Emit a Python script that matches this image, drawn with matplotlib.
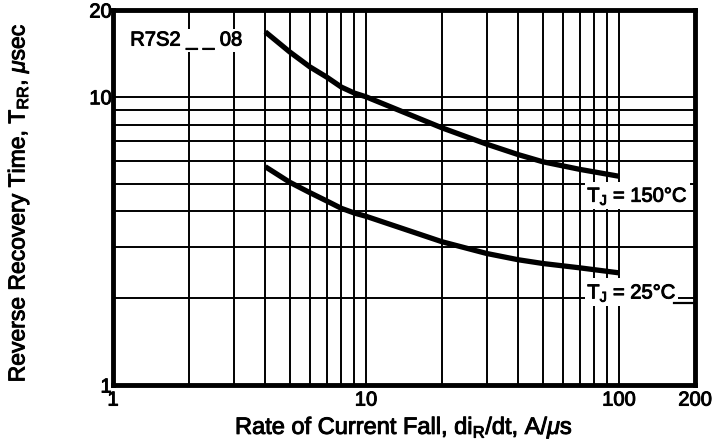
import matplotlib
matplotlib.use("Agg")
import matplotlib.pyplot as plt
import matplotlib.patheffects as pe
from matplotlib.ticker import LogLocator, NullFormatter, FixedLocator, FixedFormatter

FONT = 'Liberation Sans'
plt.rcParams['font.family'] = [FONT, 'DejaVu Sans']
plt.rcParams['mathtext.fontset'] = 'custom'
plt.rcParams['mathtext.rm'] = FONT
plt.rcParams['mathtext.it'] = FONT + ':italic'

# data
x_150 = [4, 5, 6, 7, 8, 9, 10, 20, 30, 40, 50, 70, 100]
y_150 = [16.8, 14.3, 12.7, 11.7, 10.8, 10.3, 10.0, 7.8, 6.85, 6.3, 5.95, 5.6, 5.3]
x_25 = [4, 5, 6, 7, 8, 9, 10, 20, 30, 40, 50, 70, 100]
y_25 = [5.72, 5.05, 4.65, 4.35, 4.1, 3.95, 3.85, 3.14, 2.86, 2.72, 2.64, 2.55, 2.45]
x_ticks = [1, 10, 100, 200]
x_ticklabels = ['1', '10', '100', '200']
y_ticks = [1, 10, 20]
y_ticklabels = ['1', '10', '20']

heavy = [pe.withStroke(linewidth=0.7, foreground='black')]

fig = plt.figure(figsize=(7.27, 4.41), dpi=100)
ax = fig.add_axes([113/727, (441-385)/441, (695-113)/727, (385-10)/441])
ax.set_xscale('log')
ax.set_yscale('log')
ax.set_xlim(1, 200)
ax.set_ylim(1, 20)

ax.xaxis.set_major_locator(FixedLocator(x_ticks))
ax.xaxis.set_major_formatter(FixedFormatter(x_ticklabels))
ax.yaxis.set_major_locator(FixedLocator(y_ticks))
ax.yaxis.set_major_formatter(FixedFormatter(y_ticklabels))
ax.xaxis.set_minor_locator(LogLocator(base=10, subs=range(2, 10)))
ax.yaxis.set_minor_locator(LogLocator(base=10, subs=range(2, 10)))
ax.xaxis.set_minor_formatter(NullFormatter())
ax.yaxis.set_minor_formatter(NullFormatter())
ax.grid(True, which='both', color='black', linewidth=1.4)
ax.tick_params(which='both', length=0, labelsize=14.5)
ax.tick_params(axis='x', pad=4)
ax.tick_params(axis='y', pad=1)
for lab in ax.get_xticklabels() + ax.get_yticklabels():
    lab.set_path_effects(heavy)

for s in ax.spines.values():
    s.set_linewidth(3.5)
    s.set_color('black')
    s.set_zorder(5)

ax.plot(x_150, y_150, color='black', linewidth=3.8, solid_capstyle='butt', zorder=4)
ax.plot(x_25, y_25, color='black', linewidth=3.8, solid_capstyle='butt', zorder=4)

box = dict(facecolor='white', edgecolor='none', pad=1.5)
ax.text(1.17, 15.7, 'R7S2 _ _ 08', fontsize=14.5, va='center', ha='left', bbox=box,
        zorder=3, path_effects=heavy)
ax.text(75, 4.55, r'T$_{\mathregular{J}}$ = 150°C', fontsize=14.5, va='center', ha='left',
        bbox=box, zorder=3, path_effects=heavy)
ax.text(75, 2.1, r'T$_{\mathregular{J}}$ = 25°C', fontsize=14.5, va='center', ha='left',
        bbox=box, zorder=3, path_effects=heavy)
ax.plot([165, 200], [1.92, 1.92], color='black', linewidth=1.6, zorder=3)

ax.set_xlabel(r'Rate of Current Fall, di$_{\mathregular{R}}$/dt, A/$\mathit{\mu}$s', fontsize=17,
              path_effects=heavy)
ax.xaxis.set_label_coords(0.5, -0.08)
ax.set_ylabel(r'Reverse Recovery Time, T$_{\mathregular{RR}}$, $\mathit{\mu}$sec', fontsize=16.5,
              path_effects=heavy)
ax.yaxis.set_label_coords(-0.14, 0.485)

fig.savefig('out.png', dpi=100, facecolor='white')
